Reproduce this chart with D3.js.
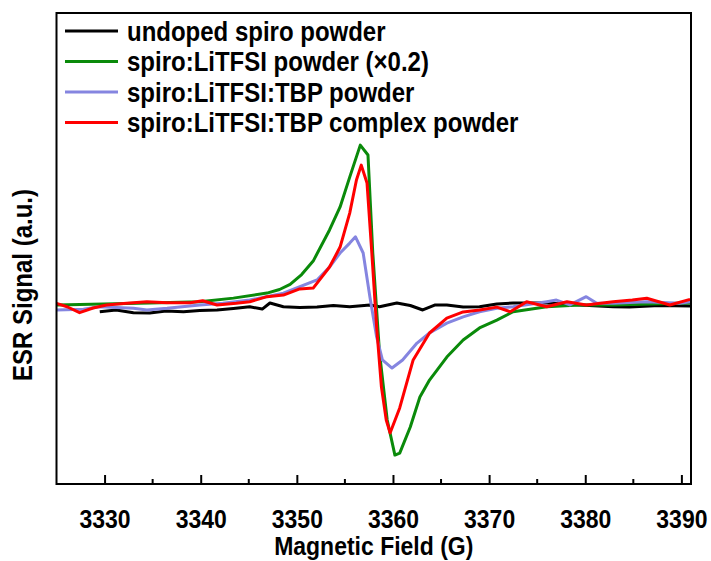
<!DOCTYPE html>
<html>
<head>
<meta charset="utf-8">
<script src="https://cdn.jsdelivr.net/npm/d3@7"></script>
<style>
  html, body { margin: 0; padding: 0; background: #fff; }
  svg { display: block; font-family: "Liberation Sans", Arial, sans-serif; }
</style>
</head>
<body>
<svg id="chart" width="711" height="561"></svg>
<script>
// magnetic field (G) / signal (a.u.) pairs
const undopedField = [3329.5, 3331.2, 3333.0, 3334.7, 3336.4, 3338.2, 3339.9, 3341.7, 3343.4, 3345.1, 3346.4, 3347.2, 3348.6, 3350.3, 3352.1, 3353.8, 3355.5, 3357.6, 3358.6, 3360.4, 3361.8, 3363.1, 3364.4, 3365.6, 3367.3, 3369.0, 3370.8, 3372.5, 3376.0, 3379.4, 3382.9, 3384.6, 3387.7, 3390.9];
const undopedSignal = [-4.2, -3.2, -4.7, -4.9, -3.8, -4.2, -3.5, -3.2, -2.4, -1.4, -2.7, 0.7, -1.4, -1.8, -1.6, -0.7, -1.4, -0.4, -1.4, 0.7, -0.7, -3.2, -0.4, -0.4, -1.6, -1.4, 0.1, 0.7, 0.7, -0.4, -1.4, -1.6, -0.7, -1.0];

const litfsiField = [3325.0, 3334.7, 3339.9, 3343.4, 3346.9, 3348.2, 3349.3, 3350.5, 3351.7, 3353.4, 3354.5, 3355.5, 3356.6, 3357.4, 3357.9, 3358.6, 3359.4, 3360.2, 3360.7, 3361.8, 3362.8, 3363.8, 3365.6, 3367.3, 3369.0, 3370.8, 3372.5, 3376.0, 3379.4, 3382.9, 3386.7, 3390.9];
const litfsiSignal = [-0.4, 0.7, 1.4, 3.4, 6.2, 8.2, 11.0, 16.5, 24.0, 41.3, 54.1, 70.7, 88.5, 83.0, 28.5, -27.1, -64.4, -83.9, -82.8, -68.3, -51.6, -42.2, -29.4, -19.9, -13.2, -8.8, -4.2, -1.4, -0.4, -0.4, 0.1, 0.7];

const tbpField = [3325.0, 3327.8, 3329.5, 3333.0, 3334.4, 3336.5, 3339.9, 3342.3, 3345.1, 3348.6, 3352.1, 3353.4, 3354.5, 3355.5, 3356.1, 3356.9, 3357.6, 3358.3, 3358.9, 3359.9, 3361.0, 3362.5, 3363.8, 3365.6, 3367.3, 3369.0, 3370.8, 3372.5, 3376.0, 3377.0, 3378.4, 3380.1, 3381.2, 3382.9, 3386.4, 3389.8, 3390.9];
const tbpSignal = [-3.2, -2.8, -1.4, -2.3, -3.2, -2.3, -0.4, 0.5, 2.3, 6.1, 13.5, 20.7, 28.5, 34.0, 37.5, 28.5, 4.0, -18.2, -31.0, -35.5, -31.0, -21.6, -16.0, -10.5, -7.0, -4.2, -2.3, -1.4, 1.4, 2.3, -0.4, 4.2, 0.5, 0.5, 1.4, 0.5, 1.4];

const complexField = [3325.0, 3326.1, 3327.4, 3328.8, 3330.2, 3332.3, 3334.4, 3336.5, 3338.9, 3340.2, 3341.7, 3343.7, 3345.1, 3346.9, 3348.6, 3350.3, 3351.7, 3353.4, 3354.5, 3355.5, 3356.2, 3356.7, 3357.3, 3357.8, 3358.3, 3358.8, 3359.3, 3359.7, 3360.7, 3362.1, 3363.8, 3365.6, 3367.3, 3369.0, 3370.8, 3372.2, 3373.9, 3376.0, 3378.1, 3380.1, 3382.9, 3384.9, 3386.4, 3388.8, 3390.9];
const complexSignal = [0.5, -1.4, -4.7, -2.1, -0.4, 0.5, 1.4, 0.8, 0.8, 1.9, -0.4, 0.5, 1.4, 4.2, 5.1, 8.5, 9.0, 20.7, 31.8, 50.7, 69.1, 77.4, 67.4, 28.5, -12.7, -46.1, -64.4, -71.6, -57.7, -31.0, -16.0, -7.7, -4.3, -3.2, -1.6, -4.2, 1.4, -1.4, 1.4, -0.4, 1.4, 2.3, 3.3, -0.4, 2.7];

const seriesNames = ["undoped spiro powder", "spiro:LiTFSI powder (\u00d70.2)", "spiro:LiTFSI:TBP powder", "spiro:LiTFSI:TBP complex powder"];
const seriesColors = ["#000000", "#0a8a0a", "#8585e0", "#ff0000"];
const xTicks = [3330, 3340, 3350, 3360, 3370, 3380, 3390];
const xMinorTicks = [3335, 3345, 3355, 3365, 3375, 3385];

const series = [
  { field: undopedField, signal: undopedSignal },
  { field: litfsiField, signal: litfsiSignal },
  { field: tbpField, signal: tbpSignal },
  { field: complexField, signal: complexSignal }
].map((s, i) => ({
  name: seriesNames[i],
  color: seriesColors[i],
  points: s.field.map((f, j) => [f, s.signal[j]])
}));

const margin = { top: 13, right: 20, bottom: 77, left: 56.5 };
const W = 711, H = 561;
const plotW = W - margin.left - margin.right;
const plotH = H - margin.top - margin.bottom;
const stretch = 1.12; // glyphs in the figure are a bit taller than plain Arial

const svg = d3.select("#chart");

const x = d3.scaleLinear().domain([3325, 3391]).range([0, plotW]);
const y = d3.scaleLinear().domain([-100, 162]).range([plotH, 0]);

const g = svg.append("g").attr("transform", `translate(${margin.left},${margin.top})`);

const line = d3.line().x(d => x(d[0])).y(d => y(d[1]));

g.append("defs").append("clipPath").attr("id", "clip")
  .append("rect").attr("width", plotW).attr("height", plotH);

g.append("g")
  .attr("clip-path", "url(#clip)")
  .selectAll("path")
  .data(series)
  .join("path")
  .attr("fill", "none")
  .attr("stroke", d => d.color)
  .attr("stroke-width", 3)
  .attr("stroke-linejoin", "round")
  .attr("d", d => line(d.points));

// bottom axis, ticks pointing inward
const xAxis = g.append("g")
  .attr("transform", `translate(0,${plotH})`)
  .call(d3.axisBottom(x).tickValues(xTicks).tickSize(-9).tickFormat(d3.format("d")));
xAxis.select(".domain").remove();
xAxis.selectAll(".tick line").attr("stroke", "#000").attr("stroke-width", 2);
xAxis.selectAll(".tick text")
  .attr("y", null)
  .attr("dy", null)
  .attr("transform", `translate(0,44) scale(1,${stretch})`)
  .attr("fill", "#000")
  .attr("font-size", 23)
  .attr("font-weight", "bold");

g.append("g")
  .attr("transform", `translate(0,${plotH})`)
  .selectAll("line")
  .data(xMinorTicks)
  .join("line")
  .attr("x1", d => x(d)).attr("x2", d => x(d))
  .attr("y1", 0).attr("y2", -5)
  .attr("stroke", "#000").attr("stroke-width", 2);

// frame
g.append("rect")
  .attr("width", plotW).attr("height", plotH)
  .attr("fill", "none").attr("stroke", "#000").attr("stroke-width", 2);

// axis titles
svg.append("text")
  .attr("transform", `translate(${margin.left + plotW / 2},555) scale(1,${stretch})`)
  .attr("text-anchor", "middle")
  .attr("font-size", 23)
  .attr("font-weight", "bold")
  .text("Magnetic Field (G)");

svg.append("text")
  .attr("transform", `translate(32,285) rotate(-90) scale(1,${stretch})`)
  .attr("text-anchor", "middle")
  .attr("font-size", 24)
  .attr("font-weight", "bold")
  .text("ESR Signal (a.u.)");

// legend
const legend = svg.append("g").attr("transform", "translate(65,31)");
const item = legend.selectAll("g")
  .data(series)
  .join("g")
  .attr("transform", (d, i) => `translate(0,${i * 30.5})`);
item.append("line")
  .attr("x1", 0).attr("x2", 53)
  .attr("stroke", d => d.color).attr("stroke-width", 3);
item.append("text")
  .attr("transform", `translate(62,9.5) scale(1,${stretch})`)
  .attr("font-size", 24)
  .attr("font-weight", "bold")
  .attr("fill", "#000")
  .text(d => d.name);
</script>
</body>
</html>
